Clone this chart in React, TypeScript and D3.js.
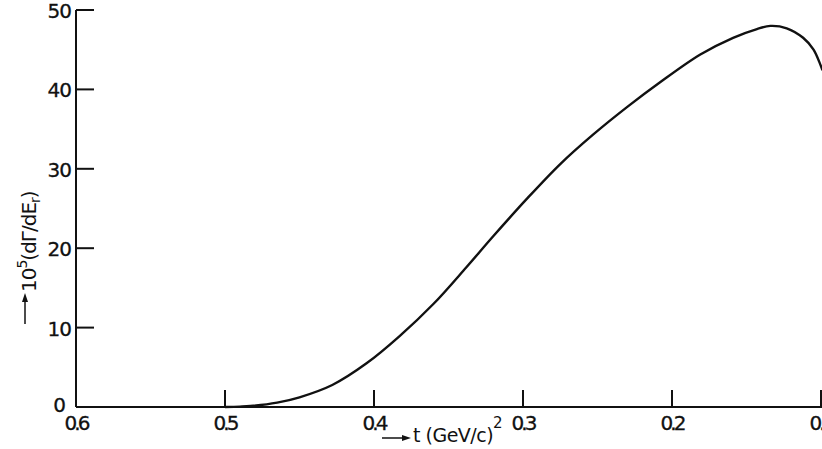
import React, { useEffect, useRef } from 'react';
import * as d3 from 'd3';

// t in (GeV/c)^2 and 10^5 dΓ/dE_r
const tValues = [0.5, 0.49, 0.483, 0.465, 0.45, 0.428, 0.405, 0.383, 0.36, 0.338, 0.32, 0.297, 0.275, 0.253, 0.23, 0.208, 0.181, 0.159, 0.143, 0.134, 0.123, 0.112, 0.105, 0.099];
const rateValues = [0, 0.05, 0.12, 0.55, 1.22, 2.77, 5.5, 8.9, 13.0, 17.6, 21.5, 26.3, 30.6, 34.3, 37.8, 40.9, 44.4, 46.5, 47.6, 48.0, 47.7, 46.5, 45.0, 42.4];
const xTicks = [0.6, 0.5, 0.4, 0.3, 0.2, 0.1];
const yTicks = [0, 10, 20, 30, 40, 50];

export default function App() {
  const svgRef = useRef<SVGSVGElement>(null);

  useEffect(() => {
    const svg = d3.select(svgRef.current);
    svg.selectAll('*').remove();

    const width = 822;
    const x = d3.scaleLinear().domain([0.6, 0.1]).range([76, 821]);
    const y = d3.scaleLinear().domain([0, 50]).range([407, 10]);
    const font = 'DejaVu Sans, sans-serif';
    const ink = '#111';

    // axis lines
    svg.append('line')
      .attr('x1', x(0.6)).attr('x2', width)
      .attr('y1', y(0)).attr('y2', y(0))
      .attr('stroke', ink).attr('stroke-width', 2);
    svg.append('line')
      .attr('x1', x(0.6)).attr('x2', x(0.6))
      .attr('y1', y(0)).attr('y2', y(50))
      .attr('stroke', ink).attr('stroke-width', 2);

    // y ticks point inwards
    svg.append('g').selectAll('line')
      .data(yTicks.filter(d => d > 0))
      .join('line')
      .attr('x1', x(0.6)).attr('x2', x(0.6) + 18)
      .attr('y1', d => y(d)).attr('y2', d => y(d))
      .attr('stroke', ink).attr('stroke-width', 2);

    svg.append('g').selectAll('text')
      .data(yTicks)
      .join('text')
      .attr('x', d => (d === 0 ? x(0.6) - 11 : x(0.6) - 5))
      .attr('y', d => (d === 0 ? y(d) + 5 : y(d) + 8))
      .attr('text-anchor', 'end')
      .attr('font-family', font)
      .attr('font-size', 20)
      .attr('letter-spacing', -1)
      .attr('fill', ink)
      .attr('stroke', ink)
      .attr('stroke-width', 0.3)
      .text(d => d);

    // x ticks
    svg.append('g').selectAll('line')
      .data(xTicks.filter(d => d < 0.6))
      .join('line')
      .attr('x1', d => x(d)).attr('x2', d => x(d))
      .attr('y1', y(0)).attr('y2', y(0) - 17)
      .attr('stroke', ink).attr('stroke-width', 2);

    svg.append('g').selectAll('text')
      .data(xTicks)
      .join('text')
      .attr('x', d => x(d))
      .attr('y', y(0) + 23)
      .attr('text-anchor', 'middle')
      .attr('font-family', font)
      .attr('font-size', 20)
      .attr('letter-spacing', -3)
      .attr('fill', ink)
      .attr('stroke', ink)
      .attr('stroke-width', 0.3)
      .text(d => d3.format('.1f')(d));

    // the curve
    const points = tValues.map((t, i) => [t, rateValues[i]] as [number, number]);
    const line = d3.line<[number, number]>()
      .x(d => x(d[0]))
      .y(d => y(d[1]))
      .curve(d3.curveCatmullRom.alpha(0.5));

    svg.append('path')
      .datum(points)
      .attr('d', line)
      .attr('fill', 'none')
      .attr('stroke', ink)
      .attr('stroke-width', 2.4);

    // x title with arrow
    const xt = svg.append('g').attr('transform', 'translate(382,438)');
    xt.append('line').attr('x1', 0).attr('x2', 24).attr('y1', 0).attr('y2', 0)
      .attr('stroke', ink).attr('stroke-width', 1.5);
    xt.append('path').attr('d', 'M29,0 L20,-3 L20,3 Z').attr('fill', ink);
    const xl = xt.append('text')
      .attr('x', 31).attr('y', 4)
      .attr('font-family', font).attr('font-size', 19)
      .attr('letter-spacing', -0.5)
      .attr('fill', ink);
    xl.append('tspan').text('t (GeV/c)');
    xl.append('tspan').attr('dy', -14).attr('font-size', 15).text('2');

    // y title, rotated, with arrow
    const yt = svg.append('g').attr('transform', 'translate(36,324) rotate(-90)');
    yt.append('line').attr('x1', 0).attr('x2', 26).attr('y1', -11).attr('y2', -11)
      .attr('stroke', ink).attr('stroke-width', 1.5);
    yt.append('path').attr('d', 'M31,-11 L22,-14 L22,-8 Z').attr('fill', ink);
    const yl = yt.append('text')
      .attr('x', 32).attr('y', 0)
      .attr('font-family', font).attr('font-size', 20)
      .attr('letter-spacing', -1)
      .attr('fill', ink);
    yl.append('tspan').text('10');
    yl.append('tspan').attr('dy', -9).attr('font-size', 14).text('5');
    yl.append('tspan').attr('dy', 9).text('(dΓ/dE');
    yl.append('tspan').attr('dy', 4).attr('font-size', 14).text('r');
    yl.append('tspan').attr('dy', -4).text(')');
  }, []);

  return (
    <svg
      ref={svgRef}
      width={822}
      height={449}
      style={{ position: 'absolute', left: 0, top: 0, backgroundColor: 'white' }}
    />
  );
}
